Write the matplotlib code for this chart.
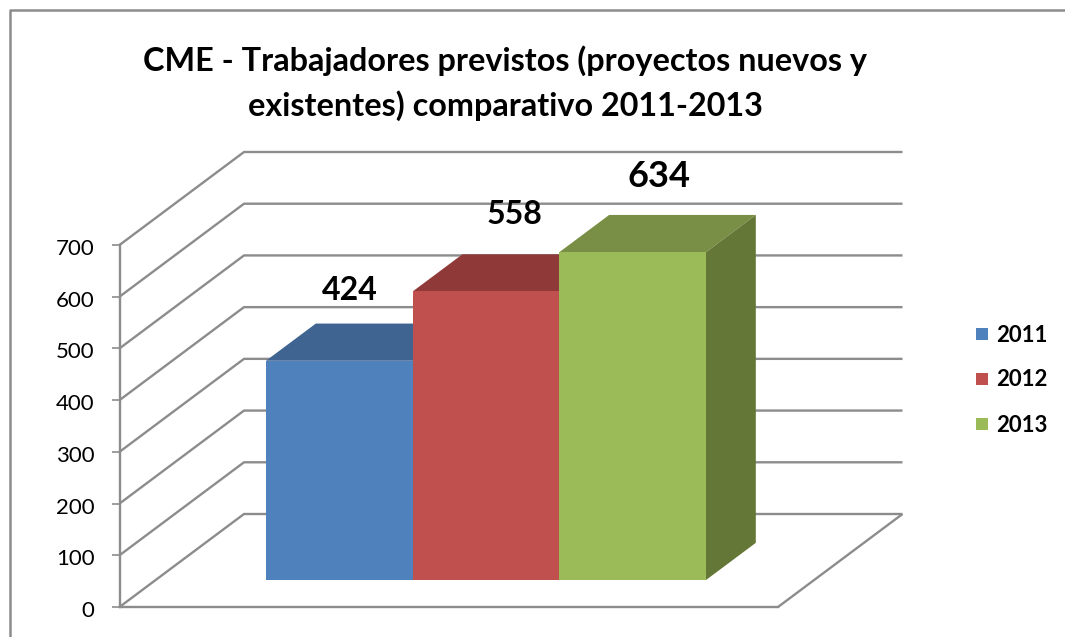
import matplotlib
matplotlib.use("Agg")
import matplotlib.pyplot as plt
from matplotlib.lines import Line2D
from matplotlib.patches import Polygon, Rectangle
from matplotlib.transforms import ScaledTranslation

years = ["2011", "2012", "2013"]
values = [424, 558, 634]
front_colors = ["#4F81BD", "#C0504D", "#9BBB59"]
top_colors = ["#3F6492", "#8F3A38", "#788F45"]
side_colors = ["#34537A", "#7A302E", "#657736"]
y_ticks = [0, 100, 200, 300, 400, 500, 600, 700]
title_lines = "CME - Trabajadores previstos (proyectos nuevos y\nexistentes) comparativo 2011-2013"

W, H = 1065, 637
GREY = "#8C8C8C"
FONT = "Lato"

fig = plt.figure(figsize=(W / 100, H / 100), dpi=100, facecolor="white")

# front plane of the chart box, in pixels
L, R, B, T = 119.5, 778, 607, 245
ax = fig.add_axes([L / W, 1 - B / H, (R - L) / W, (B - T) / H])
ax.set_ylim(0, 700)
cat_px = 146.67
D0, D1 = 0.29, 0.69
DEPTH_PX = 124.5
origin_px = 266 - D0 * DEPTH_PX
ax.set_xlim(-0.5 - (origin_px - L) / cat_px, -0.5 + (R - origin_px) / cat_px)
ax.patch.set_visible(False)

# oblique projection: depth 1 = rear wall
px_x = 1 / cat_px
px_y = 700 / (B - T)
DX, DY = DEPTH_PX * px_x, 93 * px_y


def proj(x, v, d):
    return (x + d * DX, v + d * DY)


xl, xr = ax.get_xlim()
grid_kw = dict(color=GREY, lw=1.7, clip_on=False, solid_capstyle="butt", zorder=1)
for v in y_ticks:
    a, b, c = proj(xl, v, 0), proj(xl, v, 1), proj(xr, v, 1)
    ax.plot([a[0], b[0], c[0]], [a[1], b[1], c[1]], **grid_kw)
a, b = proj(xr, 0, 0), proj(xr, 0, 1)
ax.plot([a[0], b[0]], [a[1], b[1]], **grid_kw)

# bars
for i, (val, fc, tc, sc) in enumerate(zip(values, front_colors, top_colors, side_colors)):
    x0, x1 = i - 0.5, i + 0.5
    top = [proj(x0, val, D0), proj(x1, val, D0), proj(x1, val, D1), proj(x0, val, D1)]
    side = [proj(x1, 0, D0), proj(x1, val, D0), proj(x1, val, D1), proj(x1, 0, D1)]
    front = [proj(x0, 0, D0), proj(x1, 0, D0), proj(x1, val, D0), proj(x0, val, D0)]
    z = 2 + i
    ax.add_patch(Polygon(top, closed=True, fc=tc, ec="none", clip_on=False, zorder=z))
    ax.add_patch(Polygon(side, closed=True, fc=sc, ec="none", clip_on=False, zorder=z))
    ax.add_patch(Polygon(front, closed=True, fc=fc, ec="none", clip_on=False, zorder=z))

# data labels
label_pos = [(349.5, 290), (514, 215), (659, 177)]
label_sizes = [23, 23, 26]
for val, (px, py), fs in zip(values, label_pos, label_sizes):
    fig.text(px / W, 1 - py / H, str(val), ha="center", va="center",
             fontsize=fs, fontweight="bold", family=FONT, color="black")

# axis
for s in ["top", "right"]:
    ax.spines[s].set_visible(False)
ax.spines["left"].set_color(GREY)
ax.spines["left"].set_linewidth(1.7)
ax.spines["bottom"].set_color(GREY)
ax.spines["bottom"].set_linewidth(1.7)
ax.set_xticks([])
ax.set_yticks(y_ticks)
ax.tick_params(axis="y", length=6, width=1.2, color=GREY, pad=12, labelsize=16)
shift = ScaledTranslation(0, -2 / 100, fig.dpi_scale_trans)
for t in ax.get_yticklabels():
    t.set_family(FONT)
    t.set_transform(t.get_transform() + shift)

# title
fig.text(505 / W, 1 - 83 / H, title_lines, ha="center", va="center", fontsize=23.3,
         fontweight="bold", family=FONT, linespacing=1.55, color="black")

# legend
leg_y = [334, 379, 424]
for name, col, ly in zip(years, front_colors, leg_y):
    fig.add_artist(Rectangle((976 / W, 1 - (ly + 6) / H), 12 / W, 12 / H,
                             transform=fig.transFigure, fc=col, ec="none"))
    fig.text(996 / W, 1 - (ly + 1) / H, name, ha="left", va="center", fontsize=16,
             fontweight="bold", family=FONT, color="black")

# chart area border (top and left edges show)
fig.add_artist(Line2D([9.5 / W, 9.5 / W, 1], [0, 1 - 10 / H, 1 - 10 / H],
                      transform=fig.transFigure, color=GREY, lw=1.8))

fig.savefig("out.png", dpi=100)
